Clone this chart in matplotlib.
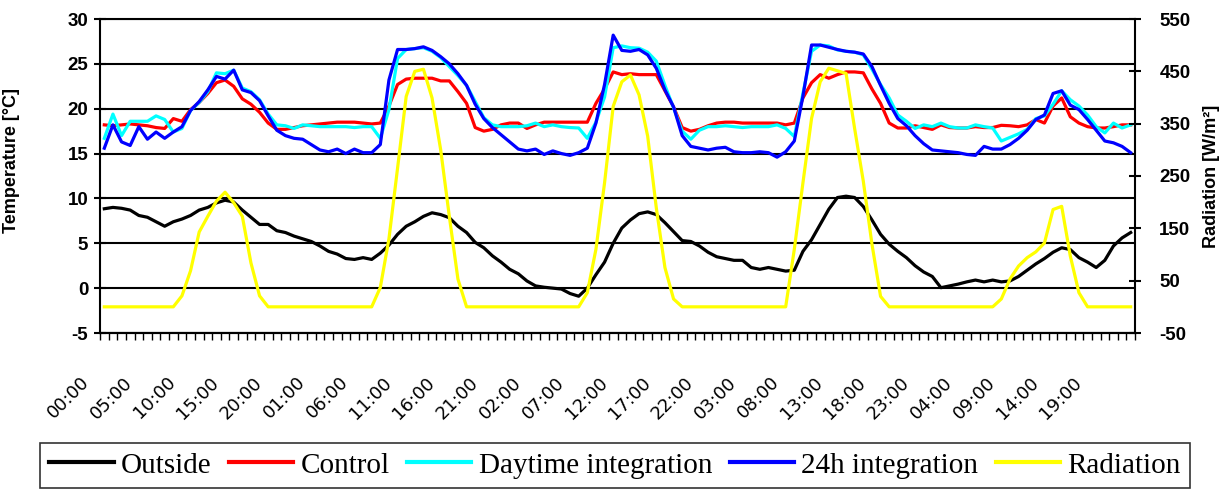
import numpy as np
import matplotlib.pyplot as plt
from matplotlib.transforms import ScaledTranslation

plt.rcParams["axes.unicode_minus"] = False

hour_labels = ["00:00", "05:00", "10:00", "15:00", "20:00", "01:00", "06:00", "11:00",
               "16:00", "21:00", "02:00", "07:00", "12:00", "17:00", "22:00", "03:00",
               "08:00", "13:00", "18:00", "23:00", "04:00", "09:00", "14:00", "19:00"]

outside = [8.85, 9.0, 8.9, 8.7, 8.1, 7.9, 7.4, 6.9, 7.4, 7.7, 8.1, 8.7, 9.0, 9.5, 9.8, 9.6,
           8.7, 7.9, 7.1, 7.1, 6.4, 6.2, 5.8, 5.5, 5.2, 4.7, 4.1, 3.8, 3.3, 3.2, 3.4, 3.2,
           3.9, 4.8, 6.0, 6.9, 7.4, 8.0, 8.4, 8.2, 7.85, 6.9, 6.2, 5.1, 4.5, 3.6, 2.9, 2.1,
           1.6, 0.8, 0.25, 0.1, 0.0, -0.1, -0.6, -0.9, 0.0, 1.5, 2.9, 5.0, 6.7, 7.6, 8.3, 8.5,
           8.2, 7.3, 6.3, 5.3, 5.2, 4.7, 4.0, 3.5, 3.3, 3.1, 3.1, 2.3, 2.1, 2.3, 2.1, 1.9,
           2.0, 4.1, 5.4, 7.1, 8.8, 10.1, 10.25, 10.1, 9.1, 7.6, 6.0, 4.9, 4.1, 3.4, 2.5, 1.8,
           1.3, 0.05, 0.25, 0.45, 0.7, 0.9, 0.7, 0.9, 0.7, 0.8, 1.3, 2.0, 2.7, 3.3, 4.0, 4.5,
           4.3, 3.4, 2.9, 2.3, 3.1, 4.7, 5.6, 6.2]

control = [18.2, 18.1, 18.2, 18.3, 18.2, 18.1, 17.9, 17.8, 18.9, 18.6, 19.9, 20.7, 21.7, 22.9,
           23.2, 22.5, 21.1, 20.5, 19.6, 18.4, 17.7, 17.7, 17.9, 18.1, 18.2, 18.3, 18.4, 18.5,
           18.5, 18.5, 18.4, 18.3, 18.4, 20.3, 22.7, 23.3, 23.4, 23.4, 23.4, 23.1, 23.1, 21.9,
           20.6, 17.9, 17.5, 17.7, 18.2, 18.4, 18.4, 17.8, 18.2, 18.5, 18.5, 18.5, 18.5, 18.5,
           18.5, 20.6, 22.2, 24.1, 23.8, 23.9, 23.8, 23.8, 23.8, 22.0, 20.2, 17.9, 17.5, 17.7,
           18.1, 18.4, 18.5, 18.5, 18.4, 18.4, 18.4, 18.4, 18.4, 18.2, 18.4, 21.2, 22.9, 23.8,
           23.4, 23.8, 24.1, 24.1, 24.0, 22.2, 20.6, 18.4, 17.85, 17.85, 18.1, 17.9, 17.7, 18.2,
           17.9, 17.85, 17.85, 18.0, 17.9, 17.9, 18.15, 18.1, 18.0, 18.2, 18.8, 18.4, 20.3, 21.2,
           19.1, 18.4, 18.0, 17.85, 17.85, 18.0, 18.2, 18.2]

daytime = [16.7, 19.4, 17.0, 18.6, 18.6, 18.6, 19.2, 18.8, 17.4, 17.8, 19.8, 20.7, 21.9, 24.0,
           23.9, 24.3, 22.3, 21.9, 21.0, 19.4, 18.2, 18.1, 17.8, 18.2, 18.1, 18.0, 18.0, 18.0,
           18.0, 17.9, 18.0, 18.0, 16.7, 19.9, 25.6, 26.6, 26.7, 26.8, 26.4, 25.7, 24.7, 23.7,
           22.6, 20.8, 19.0, 18.2, 18.0, 18.0, 18.0, 18.1, 18.4, 18.0, 18.2, 18.0, 17.9, 17.85,
           16.7, 18.5, 21.3, 26.8, 27.0, 26.8, 26.75, 26.3, 25.3, 22.6, 20.1, 17.5, 16.6, 17.6,
           18.0, 18.0, 18.1, 18.0, 17.9, 18.0, 18.0, 18.0, 18.2, 17.8, 16.9, 21.7, 26.4, 27.1,
           27.0, 26.55, 26.4, 26.3, 26.0, 24.4, 22.7, 21.2, 19.3, 18.6, 17.8, 18.2, 18.0, 18.4,
           18.0, 17.85, 17.85, 18.2, 18.0, 17.85, 16.4, 16.8, 17.2, 17.7, 18.9, 19.2, 20.5, 22.0,
           21.0, 20.3, 19.3, 18.0, 17.3, 18.4, 17.85, 18.2]

full_day = [15.6, 18.2, 16.3, 15.9, 18.0, 16.6, 17.4, 16.7, 17.4, 18.0, 19.8, 20.8, 22.1, 23.6,
            23.3, 24.3, 22.1, 21.8, 20.9, 19.2, 17.6, 17.0, 16.7, 16.6, 16.0, 15.4, 15.2, 15.5,
            15.0, 15.5, 15.1, 15.1, 16.0, 23.2, 26.6, 26.6, 26.7, 26.9, 26.5, 25.8, 25.0, 23.9,
            22.6, 20.5, 18.9, 17.9, 17.1, 16.3, 15.5, 15.3, 15.5, 14.9, 15.3, 15.0, 14.8, 15.1,
            15.6, 18.4, 22.7, 28.2, 26.5, 26.4, 26.6, 26.0, 24.5, 22.1, 20.2, 17.0, 15.8, 15.6,
            15.4, 15.6, 15.7, 15.2, 15.1, 15.1, 15.2, 15.1, 14.6, 15.2, 16.4, 21.4, 27.1, 27.1,
            26.85, 26.6, 26.4, 26.3, 26.1, 24.7, 22.6, 20.6, 18.9, 18.1, 17.0, 16.1, 15.4, 15.3,
            15.2, 15.1, 14.9, 14.8, 15.8, 15.5, 15.5, 16.0, 16.7, 17.6, 18.8, 19.3, 21.7, 22.0,
            20.4, 19.9, 18.8, 17.6, 16.4, 16.2, 15.8, 15.1]

radiation = [0, 0, 0, 0, 0, 0, 0, 0, 0, 21, 69, 143, 173, 202, 219, 199, 173, 84, 21, 0,
             0, 0, 0, 0, 0, 0, 0, 0, 0, 0, 0, 0, 37, 130, 265, 402, 450, 454, 399, 300,
             173, 53, 0, 0, 0, 0, 0, 0, 0, 0, 0, 0, 0, 0, 0, 0, 27, 110, 237, 383,
             430, 443, 405, 326, 189, 75, 15, 0, 0, 0, 0, 0, 0, 0, 0, 0, 0, 0, 0, 0,
             110, 237, 360, 430, 456, 451, 446, 340, 240, 120, 20, 0, 0, 0, 0, 0, 0, 0, 0, 0,
             0, 0, 0, 0, 15, 53, 78, 94, 105, 122, 186, 192, 97, 27, 0, 0, 0, 0, 0, 0]

fig = plt.figure(figsize=(12.25, 4.92), dpi=100)
ax = fig.add_axes([100 / 1225, 1 - 333 / 492, 1035 / 1225, 314 / 492])
x = np.arange(len(outside))

lw = 2.3
ax.plot(x, outside, color="black", lw=lw, label="Outside")
ax.plot(x, control, color="#ff0000", lw=lw, label="Control")
ax.plot(x, daytime, color="#00ffff", lw=lw, label="Daytime integration")
ax.plot(x, full_day, color="#0000ff", lw=lw, label="24h integration")

ax2 = ax.twinx()
ax2.plot(x, radiation, color="#ffff00", lw=lw, label="Radiation")

ax.set_xlim(-0.5, len(outside) - 0.5)
ax.set_ylim(-5, 30)
ax2.set_ylim(-50, 550)
ax.set_yticks(range(-5, 31, 5))
ax2.set_yticks(range(-50, 551, 100))
ax.yaxis.grid(True, color="black", lw=1.5)
ax.set_axisbelow(True)

for lab in ax.get_yticklabels() + ax2.get_yticklabels():
    lab.set_family("Liberation Sans")
    lab.set_fontweight("bold")
    lab.set_fontsize(13.5)
ax.tick_params(axis="y", direction="inout", length=9, width=1.5, pad=4)
ax2.tick_params(axis="y", direction="inout", length=9, width=1.5, pad=13)

ax.set_xticks(np.arange(0, len(outside), 5))
ax.set_xticklabels(hour_labels, rotation=45, ha="right", va="top",
                   family="DejaVu Sans", size=13)
ax.set_xticks(np.arange(-0.5, len(outside), 1), minor=True)
ax.tick_params(axis="x", which="major", length=0, pad=29)
ax.tick_params(axis="x", which="minor", length=5, width=1, direction="out")
shift = ScaledTranslation(-11 / 100, 0, fig.dpi_scale_trans)
for lab in ax.get_xticklabels():
    lab.set_transform(lab.get_transform() + shift)

for a in (ax, ax2):
    for s in a.spines.values():
        s.set_linewidth(1.5)
ax.spines["right"].set_visible(False)
ax2.spines["left"].set_visible(False)
ax2.spines["top"].set_visible(False)

ax.set_ylabel("Temperature [°C]", family="Liberation Sans", weight="bold", size=13)
ax.yaxis.set_label_coords(-0.077, 0.55)
ax2.set_ylabel("Radiation [W/m²]", family="Liberation Sans", weight="bold", size=13,
               rotation=90)
ax2.yaxis.set_label_coords(1.066, 0.5)

h1, l1 = ax.get_legend_handles_labels()
h2, l2 = ax2.get_legend_handles_labels()
leg = fig.legend(h1 + h2, l1 + l2, loc="center", bbox_to_anchor=(0.502, 0.054), ncol=5,
                 prop=dict(family="Liberation Serif", size=21), frameon=True,
                 fancybox=False, edgecolor="black", handlelength=2.2,
                 columnspacing=0.6, handletextpad=0.25, borderpad=0.32)
leg.get_frame().set_linewidth(1.2)
for line in leg.get_lines():
    line.set_linewidth(3)

fig.savefig("out.png", dpi=100)
